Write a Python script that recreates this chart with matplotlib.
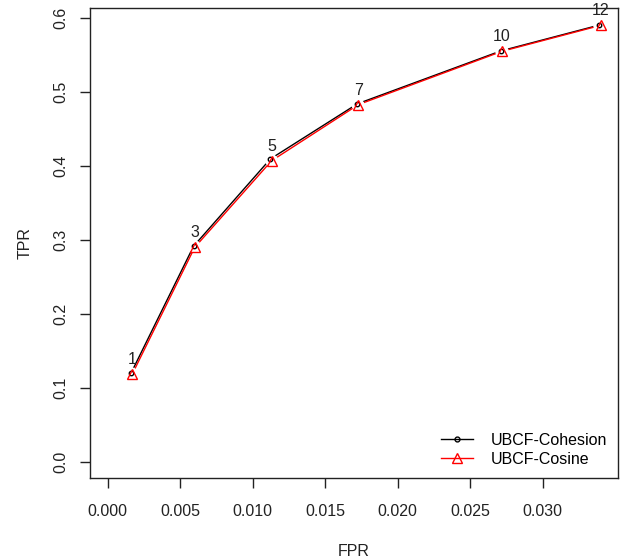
import matplotlib
matplotlib.use("Agg")
import matplotlib.pyplot as plt

plt.rcParams['font.family'] = ['Liberation Sans', 'DejaVu Sans']

labels = ["1", "3", "5", "7", "10", "12"]
coh_fpr = [0.00162, 0.00592, 0.01122, 0.01722, 0.02712, 0.03392]
coh_tpr = [0.1205, 0.2915, 0.4095, 0.4840, 0.5555, 0.5905]
cos_fpr = [0.0017, 0.0060, 0.0113, 0.0173, 0.0272, 0.0340]
cos_tpr = [0.119, 0.290, 0.407, 0.483, 0.555, 0.590]
xticks = [0.000, 0.005, 0.010, 0.015, 0.020, 0.025, 0.030]
yticks = [0.0, 0.1, 0.2, 0.3, 0.4, 0.5, 0.6]

W, H = 622, 559
fig = plt.figure(figsize=(W/100, H/100), dpi=100)
L, R, T, B = 90, 618, 8, 478
ax = fig.add_axes([L/W, (H-B)/H, (R-L)/W, (B-T)/H])

# lines
ax.plot(coh_fpr, coh_tpr, color='black', lw=1, zorder=2)
ax.plot(cos_fpr, cos_tpr, color='red', lw=1, zorder=2.1)
# gaps around points (R type="b")
ax.plot(coh_fpr, coh_tpr, ls='none', marker='o', ms=9, mfc='white',
        mec='none', zorder=3)
ax.plot(cos_fpr, cos_tpr, ls='none', marker='o', ms=9, mfc='white',
        mec='none', zorder=3)
# markers
ax.plot(coh_fpr, coh_tpr, ls='none', marker='o', ms=3.2, mfc='none',
        mec='black', mew=1, zorder=4)
ax.plot(cos_fpr, cos_tpr, ls='none', marker='^', ms=7, mfc='none',
        mec='red', mew=1, zorder=5)
# legend proxies
ax.plot([], [], color='black', lw=1, marker='o', ms=3.5, mfc='none',
        mec='black', label='UBCF-Cohesion')
ax.plot([], [], color='red', lw=1, marker='^', ms=7, mfc='none',
        mec='red', label='UBCF-Cosine')

for x, y, t in zip(cos_fpr, cos_tpr, labels):
    ax.annotate(t, (x, y), xytext=(0, 5), textcoords='offset points',
                ha='center', va='bottom', fontsize=11.5, color='#222222')

ax.set_xlim(-0.00122, 0.0352)
ax.set_ylim(-0.0216, 0.6135)
ax.set_xticks(xticks)
ax.set_xticklabels([f"{v:.3f}" for v in xticks])
ax.set_yticks(yticks)
ax.set_yticklabels([f"{v:.1f}" for v in yticks], rotation=90, va='center')
ax.tick_params(axis='x', length=7.5, width=1, labelsize=11.5, pad=11,
               colors='#222222')
ax.tick_params(axis='y', length=7.5, width=1, labelsize=11.5, pad=8,
               colors='#222222')
for s in ax.spines.values():
    s.set_linewidth(1)
    s.set_color('#222222')
ax.set_xlabel('FPR', fontsize=11.5, labelpad=18, color='#222222')
ax.set_ylabel('TPR', fontsize=11.5, labelpad=15, color='#222222')

ax.legend(loc='lower right', frameon=False, fontsize=11.5, handlelength=2.0,
          borderaxespad=0.3, labelspacing=0.25, handletextpad=1.1,
          bbox_to_anchor=(1.0, 0.0))

fig.savefig('out.png', dpi=100)
